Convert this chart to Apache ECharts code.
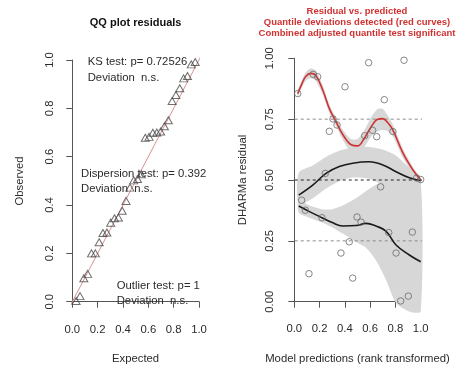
<!DOCTYPE html>
<html>
<head>
<meta charset="utf-8">
<script src="https://cdn.jsdelivr.net/npm/echarts@6/dist/echarts.min.js"></script>
<style>
  html, body { margin: 0; padding: 0; background: #ffffff; }
  #chart { width: 456px; height: 367px; }
</style>
</head>
<body>
<div id="chart"></div>
<script>
// ---- QQ plot: expected uniform quantiles vs observed (sorted) scaled residuals
const qqExpected = [0.030, 0.061, 0.091, 0.121, 0.152, 0.182, 0.212, 0.242, 0.273, 0.303, 0.333, 0.364,
                    0.394, 0.424, 0.455, 0.485, 0.515, 0.545, 0.576, 0.606, 0.636, 0.667, 0.697, 0.727,
                    0.758, 0.788, 0.818, 0.848, 0.879, 0.909, 0.939, 0.970];
const qqObserved = [0.003, 0.023, 0.097, 0.115, 0.200, 0.200, 0.246, 0.284, 0.286, 0.327, 0.345, 0.348,
                    0.376, 0.417, 0.472, 0.502, 0.508, 0.527, 0.678, 0.682, 0.699, 0.700, 0.704, 0.726,
                    0.751, 0.830, 0.855, 0.883, 0.924, 0.934, 0.982, 0.992];
const qqRefLine = [[-0.035, -0.035], [1.04, 1.04]];

// ---- Residual vs. predicted
const predRank = [0.027, 0.058, 0.087, 0.116, 0.150, 0.185, 0.219, 0.245, 0.277, 0.306, 0.338, 0.369,
                  0.401, 0.435, 0.462, 0.496, 0.528, 0.557, 0.588, 0.620, 0.652, 0.683, 0.712, 0.747,
                  0.780, 0.805, 0.842, 0.868, 0.902, 0.934, 0.968, 1.000];
const residual = [0.855, 0.417, 0.376, 0.115, 0.934, 0.924, 0.345, 0.527, 0.700, 0.751, 0.726, 0.200,
                  0.883, 0.246, 0.097, 0.348, 0.327, 0.682, 0.982, 0.704, 0.678, 0.472, 0.830, 0.284,
                  0.699, 0.200, 0.003, 0.992, 0.023, 0.286, 0.508, 0.502];

// quantile levels tested
const quantileLevels = [0.25, 0.5, 0.75];

// 0.75 quantile spline (flagged) with its confidence band
const q75X   = [0.027, 0.06, 0.09, 0.13, 0.17, 0.225, 0.28, 0.33, 0.38, 0.45, 0.50, 0.55, 0.61, 0.66, 0.70, 0.74, 0.78, 0.86, 0.94, 1.0];
const q75Fit = [0.855, 0.895, 0.925, 0.938, 0.930, 0.870, 0.790, 0.740, 0.690, 0.645, 0.640, 0.668, 0.720, 0.750, 0.752, 0.735, 0.705, 0.610, 0.540, 0.500];
const q75Up  = [0.868, 0.910, 0.942, 0.958, 0.950, 0.888, 0.806, 0.756, 0.708, 0.668, 0.668, 0.700, 0.760, 0.792, 0.792, 0.765, 0.728, 0.628, 0.552, 0.508];
const q75Lo  = [0.842, 0.880, 0.908, 0.918, 0.908, 0.850, 0.772, 0.722, 0.668, 0.612, 0.605, 0.632, 0.680, 0.700, 0.705, 0.700, 0.680, 0.590, 0.526, 0.492];

// 0.5 quantile spline with band
const q50X   = [0.035, 0.146, 0.251, 0.356, 0.462, 0.593, 0.70, 0.805, 0.91, 1.0];
const q50Fit = [0.438, 0.479, 0.527, 0.555, 0.569, 0.575, 0.562, 0.534, 0.509, 0.497];
const q50Up  = [0.530, 0.560, 0.595, 0.620, 0.632, 0.636, 0.625, 0.600, 0.550, 0.505];
const q50Lo  = [0.400, 0.425, 0.465, 0.495, 0.510, 0.505, 0.480, 0.460, 0.470, 0.490];

// 0.25 quantile spline with band
const q25X   = [0.035, 0.12, 0.219, 0.30, 0.383, 0.488, 0.567, 0.646, 0.725, 0.805, 0.91, 1.0];
const q25Fit = [0.393, 0.370, 0.345, 0.325, 0.311, 0.313, 0.322, 0.311, 0.290, 0.233, 0.192, 0.164];
const q25Up  = [0.420, 0.395, 0.380, 0.380, 0.395, 0.425, 0.455, 0.480, 0.500, 0.510, 0.505, 0.495];
const q25Lo  = [0.365, 0.345, 0.325, 0.305, 0.280, 0.245, 0.222, 0.170, 0.090, -0.005, -0.040, -0.040];

const FONT = '"Liberation Sans", Arial, sans-serif';
const FS = 11.3;
const TXT = '#2b2b2b';
const AXIS = '#555555';
const BAND = '#d7d7d7';
const RED = '#d03232';

const zip = (a, b) => a.map((v, i) => [v, b[i]]);

const bands = [
  { x: q50X, up: q50Up, lo: q50Lo },
  { x: q25X, up: q25Up, lo: q25Lo },
  { x: q75X, up: q75Up, lo: q75Lo }
];

function axisCommon(extra) {
  return Object.assign({
    type: 'value',
    splitLine: { show: false },
    axisLine: { show: true, lineStyle: { color: AXIS, width: 1 } },
    axisTick: { show: true, length: 6, lineStyle: { color: AXIS, width: 1 } }
  }, extra);
}

const chart = echarts.init(document.getElementById('chart'), null, { renderer: 'canvas' });

const option = {
  animation: false,
  backgroundColor: '#ffffff',
  grid: [
    { left: 72.3, top: 60, width: 126.7, height: 241.7 },
    { left: 294.3, top: 58.3, width: 126.4, height: 243.4 }
  ],
  xAxis: [
    axisCommon({ gridIndex: 0, min: 0, max: 1, interval: 0.2, offset: 12.3,
      axisLabel: { color: TXT, fontFamily: FONT, fontSize: FS, margin: 10, formatter: v => v.toFixed(1) } }),
    axisCommon({ gridIndex: 1, min: 0, max: 1, interval: 0.2, offset: 11.6,
      axisLabel: { color: TXT, fontFamily: FONT, fontSize: FS, margin: 10, formatter: v => v.toFixed(1) } })
  ],
  yAxis: [
    axisCommon({ gridIndex: 0, min: 0, max: 1, interval: 0.2, offset: 4.6,
      axisLabel: { color: TXT, fontFamily: FONT, fontSize: FS, margin: 12, rotate: 90, formatter: v => v.toFixed(1) } }),
    axisCommon({ gridIndex: 1, min: 0, max: 1, interval: 0.25, offset: 5.6,
      axisLabel: { color: TXT, fontFamily: FONT, fontSize: FS, margin: 13.5, rotate: 90, formatter: v => v.toFixed(2) } })
  ],
  series: [
    // QQ panel
    {
      type: 'line', xAxisIndex: 0, yAxisIndex: 0, data: qqRefLine, symbol: 'none', silent: true, clip: false,
      lineStyle: { color: '#d99090', width: 1 }, z: 2
    },
    {
      type: 'scatter', xAxisIndex: 0, yAxisIndex: 0, data: zip(qqExpected, qqObserved),
      symbol: 'triangle', symbolSize: [8, 7], clip: false,
      itemStyle: { color: 'rgba(0,0,0,0)', borderColor: '#4a4a4a', borderWidth: 1 }, z: 3
    },
    // residual panel: confidence bands of the quantile fits
    {
      type: 'custom', xAxisIndex: 1, yAxisIndex: 1, silent: true, z: 1,
      data: bands.map((b, i) => [i, 0]),
      encode: { x: 0, y: 1 },
      renderItem: (params, api) => {
        const b = bands[params.dataIndex];
        const pts = [];
        b.x.forEach((x, i) => pts.push(api.coord([x, b.up[i]])));
        for (let i = b.x.length - 1; i >= 0; i--) pts.push(api.coord([b.x[i], b.lo[i]]));
        return {
          type: 'polygon',
          shape: { points: pts, smooth: 0.25 },
          style: { fill: BAND, stroke: null }
        };
      }
    },
    // reference quantile lines
    ...quantileLevels.map(q => ({
      type: 'line', xAxisIndex: 1, yAxisIndex: 1, data: [[-0.044, q], [1.044, q]], symbol: 'none',
      silent: true, clip: false,
      lineStyle: { color: q === 0.5 ? '#222222' : '#8a8a8a', width: 1, type: [3, 3] }, z: 3
    })),
    // quantile regression fits
    {
      type: 'line', xAxisIndex: 1, yAxisIndex: 1, data: zip(q50X, q50Fit), smooth: 0.4, symbol: 'none',
      silent: true, clip: false, lineStyle: { color: '#1a1a1a', width: 1.6 }, z: 4
    },
    {
      type: 'line', xAxisIndex: 1, yAxisIndex: 1, data: zip(q25X, q25Fit), smooth: 0.4, symbol: 'none',
      silent: true, clip: false, lineStyle: { color: '#1a1a1a', width: 1.6 }, z: 4
    },
    {
      type: 'line', xAxisIndex: 1, yAxisIndex: 1, data: zip(q75X, q75Fit), smooth: 0.4, symbol: 'none',
      silent: true, clip: false, lineStyle: { color: RED, width: 1.6 }, z: 4
    },
    {
      type: 'scatter', xAxisIndex: 1, yAxisIndex: 1, data: zip(predRank, residual),
      symbol: 'circle', symbolSize: 6.5, clip: false,
      itemStyle: { color: 'rgba(0,0,0,0)', borderColor: '#6a6a6a', borderWidth: 1 }, z: 5
    }
  ],
  graphic: [
    // panel titles
    { type: 'text', x: 135.6, y: 22.7, z: 10,
      style: { text: 'QQ plot residuals', font: 'bold 11px ' + FONT, fill: '#111', align: 'center', verticalAlign: 'middle' } },
    { type: 'text', x: 357, y: 11, z: 10,
      style: { text: 'Residual vs. predicted', font: 'bold 9.5px ' + FONT, fill: RED, align: 'center', verticalAlign: 'middle' } },
    { type: 'text', x: 357, y: 22.3, z: 10,
      style: { text: 'Quantile deviations detected (red curves)', font: 'bold 9.5px ' + FONT, fill: RED, align: 'center', verticalAlign: 'middle' } },
    { type: 'text', x: 357, y: 33.5, z: 10,
      style: { text: 'Combined adjusted quantile test significant', font: 'bold 9.5px ' + FONT, fill: RED, align: 'center', verticalAlign: 'middle' } },
    // axis titles
    { type: 'text', x: 135.6, y: 359, z: 10,
      style: { text: 'Expected', font: FS + 'px ' + FONT, fill: TXT, align: 'center', verticalAlign: 'middle' } },
    { type: 'text', x: 20, y: 181, rotation: Math.PI / 2, z: 10,
      style: { text: 'Observed', font: FS + 'px ' + FONT, fill: TXT, align: 'center', verticalAlign: 'middle' } },
    { type: 'text', x: 357.5, y: 359, z: 10,
      style: { text: 'Model predictions (rank transformed)', font: FS + 'px ' + FONT, fill: TXT, align: 'center', verticalAlign: 'middle' } },
    { type: 'text', x: 243, y: 180, rotation: Math.PI / 2, z: 10,
      style: { text: 'DHARMa residual', font: FS + 'px ' + FONT, fill: TXT, align: 'center', verticalAlign: 'middle' } },
    // test annotations in the QQ panel
    { type: 'text', x: 87.7, y: 62, z: 10,
      style: { text: 'KS test: p= 0.72526', font: FS + 'px ' + FONT, fill: TXT, align: 'left', verticalAlign: 'middle' } },
    { type: 'text', x: 87.7, y: 77.5, z: 10,
      style: { text: 'Deviation  n.s.', font: FS + 'px ' + FONT, fill: TXT, align: 'left', verticalAlign: 'middle' } },
    { type: 'text', x: 81, y: 174.3, z: 10,
      style: { text: 'Dispersion test: p= 0.392', font: FS + 'px ' + FONT, fill: TXT, align: 'left', verticalAlign: 'middle' } },
    { type: 'text', x: 81, y: 189, z: 10,
      style: { text: 'Deviation  n.s.', font: FS + 'px ' + FONT, fill: TXT, align: 'left', verticalAlign: 'middle' } },
    { type: 'text', x: 116.7, y: 286, z: 10,
      style: { text: 'Outlier test: p= 1', font: FS + 'px ' + FONT, fill: TXT, align: 'left', verticalAlign: 'middle' } },
    { type: 'text', x: 116.7, y: 300.5, z: 10,
      style: { text: 'Deviation  n.s.', font: FS + 'px ' + FONT, fill: TXT, align: 'left', verticalAlign: 'middle' } }
  ]
};

chart.setOption(option);
</script>
</body>
</html>
